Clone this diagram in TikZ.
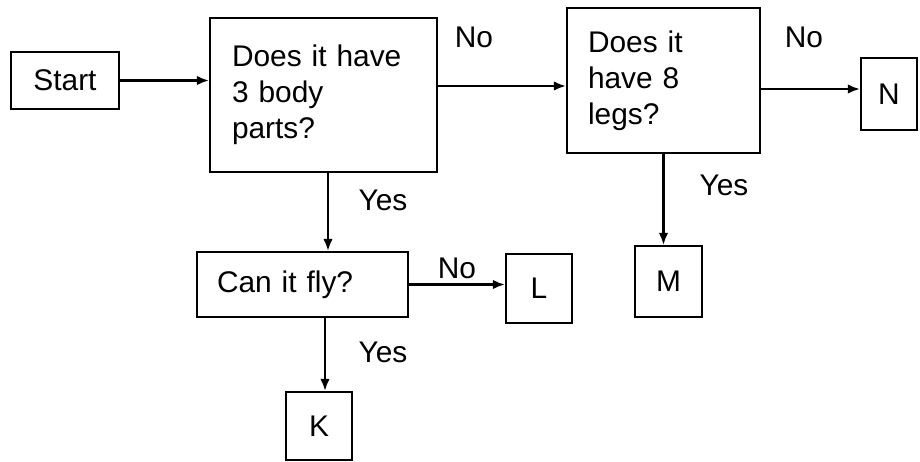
\documentclass[tikz,border=0pt]{standalone}
\usepackage{fontspec}
\setmainfont{Liberation Sans}
\usetikzlibrary{arrows.meta}

\begin{document}
\begin{tikzpicture}[x=0.02cm, y=-0.02cm,
        caja/.style={draw=black, line width=1.3pt, inner sep=0pt, font=\fontsize{17}{20.5}\selectfont},
        flecha/.style={black, line width=1.2pt, -{Latex[length=2.4mm, width=1.9mm]}},
        etiqueta/.style={font=\fontsize{17}{20.5}\selectfont}]
            \useasboundingbox (0,0) rectangle (920,462);

            % Cajas
            \node[caja, minimum width=2.16cm, minimum height=1.14cm] (start) at (65,80.5) {Start};
            \node[caja, minimum height=3.08cm, text width=3.66cm, inner xsep=0.44cm, align=left] (body) at (323.5,95) {Does it have\\3 body\\parts?};
            \node[caja, minimum height=2.9cm, text width=3.02cm, inner xsep=0.42cm, align=left] (legs) at (663.5,80.5) {Does it\\have 8\\legs?};
            \node[caja, minimum width=1.12cm, minimum height=1.44cm] (N) at (889,94) {N};
            \node[caja, minimum height=1.3cm, text width=3.42cm, inner xsep=0.4cm, align=left] (fly) at (302.5,284.5) {Can it fly?};
            \node[caja, minimum width=1.32cm, minimum height=1.38cm] (L) at (539,288.5) {L};
            \node[caja, minimum width=1.34cm, minimum height=1.42cm] (M) at (668.5,281.5) {M};
            \node[caja, minimum width=1.32cm, minimum height=1.36cm] (K) at (319,426) {K};

            % Flechas
            \coordinate (bodyNo) at ([yshift=0.18cm]body.east);
            \coordinate (nIn) at ([yshift=0.1cm]N.west);
            \coordinate (bodyYes) at ([xshift=0.09cm]body.south);
            \coordinate (kIn) at ([xshift=0.12cm]K.north);
            \draw[flecha] (start.east) -- (start.east -| body.west);
            \draw[flecha] (bodyNo) -- (bodyNo -| legs.west);
            \draw[flecha] (legs.east |- nIn) -- (nIn);
            \draw[flecha] (bodyYes) -- (bodyYes |- fly.north);
            \draw[flecha] (legs.south) -- (legs.south |- M.north);
            \draw[flecha] (fly.east) -- (fly.east -| L.west);
            \draw[flecha] (kIn |- fly.south) -- (kIn);

            % Etiquetas
            \node[etiqueta] (no1) at (474,37) {No};
            \node[etiqueta] (no2) at (804,37) {No};
            \node[etiqueta] (no3) at (457,268) {No};
            \node[etiqueta] (yes1) at (383,200) {Yes};
            \node[etiqueta] (yes2) at (724,185) {Yes};
            \node[etiqueta] (yes3) at (383,352) {Yes};
\end{tikzpicture}
\end{document}
